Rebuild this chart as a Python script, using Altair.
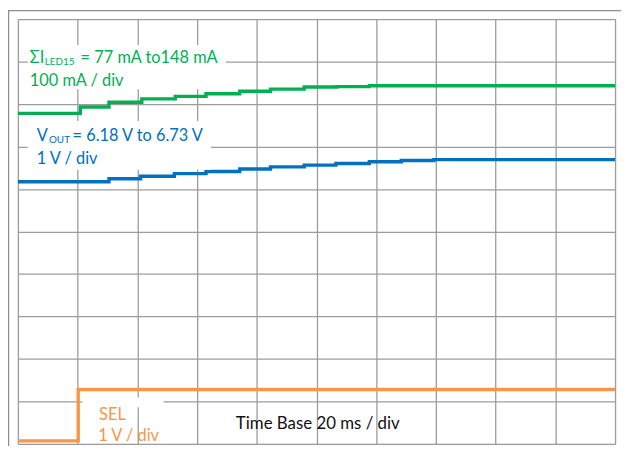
import altair as alt
import pandas as pd

# ---- data read from the scope capture (x in ms, y in divisions from bottom) ----
green_t = [0, 20.9, 30.5, 41.5, 52.7, 63.0, 74.3, 84.6, 95.9, 106.8, 117.7, 200]
green_v = [7.78, 7.93, 8.04, 8.12, 8.18, 8.24, 8.30, 8.35, 8.40, 8.41, 8.43, 8.43]

blue_t = [0, 30.5, 41.1, 52.4, 63.0, 74.3, 84.6, 95.9, 106.5, 117.7, 128.4, 139.3, 200]
blue_v = [6.17, 6.24, 6.30, 6.36, 6.41, 6.47, 6.52, 6.56, 6.60, 6.64, 6.67, 6.69, 6.69]

orange_t = [0, 20.2, 200]
orange_v = [0.07, 1.28, 1.28]

grid_x = [0, 20, 40, 60, 80, 100, 120, 140, 160, 180, 200]
grid_y = [0, 1, 2, 3, 4, 5, 6, 7, 8, 9, 10]

GREEN = "#00b050"
BLUE = "#0070c0"
ORANGE = "#f79646"
FONT = "Lato"

rows = []
for name, ts, vs in [("ILED", green_t, green_v), ("VOUT", blue_t, blue_v), ("SEL", orange_t, orange_v)]:
    for t, v in zip(ts, vs):
        rows.append({"series": name, "t": t, "v": v})
traces = pd.DataFrame(rows)

xs = alt.Scale(domain=[0, 200], nice=False, zero=False)
ys = alt.Scale(domain=[0, 10], nice=False, zero=False)

x_axis = alt.Axis(values=grid_x, grid=True, labels=False, ticks=False, domain=False, title=None,
                  gridColor="#9c9c9c", gridWidth=1.3, gridOpacity=1)
y_axis = alt.Axis(values=grid_y, grid=True, labels=False, ticks=False, domain=False, title=None,
                  gridColor="#9c9c9c", gridWidth=1.3, gridOpacity=1)

base = alt.Chart(traces).encode(
    x=alt.X("t:Q", scale=xs, axis=x_axis),
    y=alt.Y("v:Q", scale=ys, axis=y_axis),
)

lines = base.mark_line(interpolate="step-after", strokeWidth=3.4, strokeJoin="miter").encode(
    color=alt.Color("series:N", scale=alt.Scale(domain=["ILED", "VOUT", "SEL"], range=[GREEN, BLUE, ORANGE]),
                    legend=None),
    detail="series:N",
)

# white boxes behind the annotation text (they hide the grid like in the capture)
boxes = pd.DataFrame({
    "x0": [3.3, 3.3, 21.6],
    "x1": [69.7, 64.7, 48.8],
    "y0": [8.35, 6.45, 0.86],
    "y1": [9.39, 7.60, 1.10],
})
box_layer = alt.Chart(boxes).mark_rect(color="white").encode(
    x=alt.X("x0:Q", scale=xs), x2="x1:Q",
    y=alt.Y("y0:Q", scale=ys), y2="y1:Q",
)

labels = pd.DataFrame([
    {"x": 3.98, "y": 9.07, "text": "ΣI", "color": GREEN, "size": 16.5},
    {"x": 9.0, "y": 8.99, "text": "LED15", "color": GREEN, "size": 10},
    {"x": 21.0, "y": 9.07, "text": "= 77 mA to148 mA", "color": GREEN, "size": 16.5},
    {"x": 3.98, "y": 8.55, "text": "100 mA / div", "color": GREEN, "size": 16.5},
    {"x": 6.3, "y": 7.25, "text": "V", "color": BLUE, "size": 16.5},
    {"x": 10.4, "y": 7.16, "text": "OUT", "color": BLUE, "size": 10},
    {"x": 18.3, "y": 7.25, "text": "= 6.18 V to 6.73 V", "color": BLUE, "size": 16.5},
    {"x": 6.3, "y": 6.71, "text": "1 V / div", "color": BLUE, "size": 16.5},
    {"x": 27.2, "y": 0.68, "text": "SEL", "color": ORANGE, "size": 16.5},
    {"x": 26.9, "y": 0.19, "text": "1 V / div", "color": ORANGE, "size": 16.5},
    {"x": 73.0, "y": 0.47, "text": "Time Base 20 ms / div", "color": "#111111", "size": 17},
])
text_layer = alt.Chart(labels).mark_text(align="left", baseline="middle", font=FONT).encode(
    x=alt.X("x:Q", scale=xs),
    y=alt.Y("y:Q", scale=ys),
    text="text:N",
    color=alt.Color("color:N", scale=None),
    size=alt.Size("size:Q", scale=None),
)

one = pd.DataFrame({"k": [0]})
frame_top = alt.Chart(one).mark_rule(color="#8c8c8c", strokeWidth=1.2).encode(
    x=alt.value(-10), x2=alt.value(609), y=alt.value(-8.4))
frame_left = alt.Chart(one).mark_rule(color="#8c8c8c", strokeWidth=1.2).encode(
    x=alt.value(-9.4), y=alt.value(-9), y2=alt.value(432))

chart = alt.layer(frame_top, frame_left, lines, box_layer, text_layer).properties(
    width=603, height=429,
    autosize=alt.AutoSizeParams(type="none"),
    padding={"left": 10, "top": 9, "right": 6, "bottom": 0},
).configure_view(stroke="#a6a6a6", strokeWidth=1.5).configure(background="white")

chart.save("out.html", embed_options={"renderer": "svg", "actions": False})
